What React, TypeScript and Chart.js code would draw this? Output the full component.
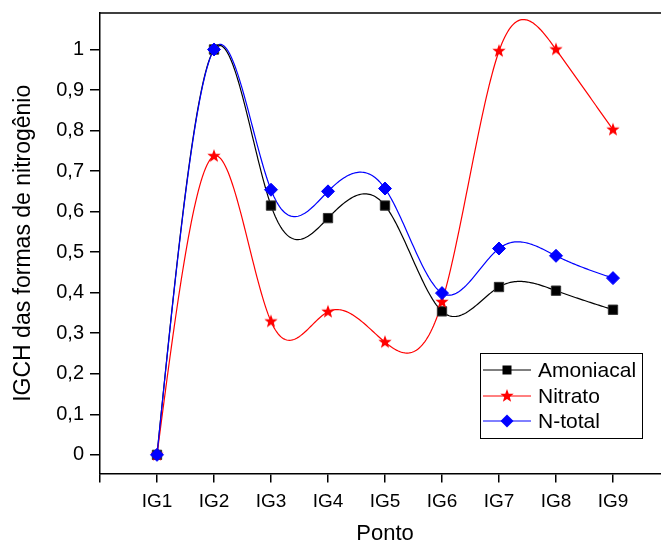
import React, { useEffect, useRef } from 'react';
import { Chart, registerables } from 'chart.js';

Chart.register(...registerables);

const categories = ['IG1', 'IG2', 'IG3', 'IG4', 'IG5', 'IG6', 'IG7', 'IG8', 'IG9'];
const amoniacal = [0, 1.0, 0.615, 0.584, 0.615, 0.354, 0.414, 0.405, 0.358];
const nitrato = [0, 0.737, 0.329, 0.353, 0.278, 0.377, 0.996, 1.0, 0.802];
const nTotal = [0, 1.0, 0.654, 0.65, 0.657, 0.399, 0.509, 0.491, 0.436];
const seriesNames = ['Amoniacal', 'Nitrato', 'N-total'];
const seriesColors = ['#000000', '#FF0000', '#0000FF'];

const FONT = 'Arial, "Liberation Sans", sans-serif';

function makeStar(color: string, outer: number, inner: number): HTMLCanvasElement {
  const size = Math.ceil(outer * 2 + 2);
  const c = document.createElement('canvas');
  c.width = size;
  c.height = size;
  const g = c.getContext('2d')!;
  g.beginPath();
  for (let i = 0; i < 10; i++) {
    const r = i % 2 === 0 ? outer : inner;
    const a = -Math.PI / 2 + (i * Math.PI) / 5;
    g.lineTo(size / 2 + r * Math.cos(a), size / 2 + r * Math.sin(a));
  }
  g.closePath();
  g.fillStyle = color;
  g.fill();
  return c;
}

function naturalSecondDerivs(y: number[]): number[] {
  const n = y.length;
  const M = new Array(n).fill(0);
  if (n < 3) return M;
  const m = n - 2;
  const cp = new Array(m).fill(0);
  const dp = new Array(m).fill(0);
  for (let k = 0; k < m; k++) {
    const i = k + 1;
    const d = 6 * (y[i + 1] - 2 * y[i] + y[i - 1]);
    const a = k === 0 ? 0 : 1;
    const denom = 4 - a * (k === 0 ? 0 : cp[k - 1]);
    cp[k] = 1 / denom;
    dp[k] = (d - a * (k === 0 ? 0 : dp[k - 1])) / denom;
  }
  for (let k = m - 1; k >= 0; k--) {
    M[k + 1] = dp[k] - cp[k] * (k === m - 1 ? 0 : M[k + 2]);
  }
  return M;
}

const splinePlugin = {
  id: 'splineLines',
  beforeDatasetsDraw(chart: any) {
    const { ctx, chartArea, scales } = chart;
    const xs = scales.x;
    const ys = scales.y;
    ctx.save();
    ctx.beginPath();
    ctx.rect(chartArea.left, chartArea.top, chartArea.right - chartArea.left, chartArea.bottom - chartArea.top);
    ctx.clip();
    chart.data.datasets.forEach((ds: any) => {
      const pts = ds.data as { x: number; y: number }[];
      const yv = pts.map((p) => p.y);
      const M = naturalSecondDerivs(yv);
      ctx.beginPath();
      ctx.moveTo(xs.getPixelForValue(pts[0].x), ys.getPixelForValue(pts[0].y));
      for (let i = 0; i < pts.length - 1; i++) {
        const steps = 40;
        for (let s = 1; s <= steps; s++) {
          const t = s / steps;
          const u = 1 - t;
          const val = u * yv[i] + t * yv[i + 1] + ((u * u * u - u) * M[i] + (t * t * t - t) * M[i + 1]) / 6;
          const xv = pts[i].x + t * (pts[i + 1].x - pts[i].x);
          ctx.lineTo(xs.getPixelForValue(xv), ys.getPixelForValue(val));
        }
      }
      ctx.strokeStyle = ds.borderColor;
      ctx.lineWidth = 1.2;
      ctx.stroke();
    });
    ctx.restore();
  },
};

const framePlugin = {
  id: 'frameAndLegend',
  afterDraw(chart: any) {
    const { ctx, chartArea } = chart;
    ctx.save();
    ctx.strokeStyle = '#000';
    ctx.lineWidth = 1.5;
    ctx.beginPath();
    ctx.moveTo(chartArea.left, chartArea.top);
    ctx.lineTo(chartArea.right, chartArea.top);
    ctx.lineTo(chartArea.right, chartArea.bottom);
    ctx.stroke();

    // legend
    const bx = chartArea.left + 380;
    const by = 353;
    const bw = 162;
    const bh = 85;
    ctx.lineWidth = 1;
    ctx.strokeStyle = '#000';
    ctx.strokeRect(bx + 0.5, by + 0.5, bw, bh);
    const rows = [17, 43, 68];
    chart.data.datasets.forEach((ds: any, i: number) => {
      const yy = by + rows[i];
      ctx.beginPath();
      ctx.moveTo(bx + 3, yy);
      ctx.lineTo(bx + 51, yy);
      ctx.strokeStyle = ds.borderColor;
      ctx.lineWidth = 1;
      ctx.stroke();
      const mx = bx + 27;
      const style = ds.pointStyle;
      if (style === 'rect') {
        ctx.fillStyle = ds.pointBackgroundColor;
        ctx.fillRect(mx - 4.5, yy - 4.5, 9, 9);
      } else if (style === 'rectRot') {
        ctx.beginPath();
        ctx.moveTo(mx - 6.5, yy);
        ctx.lineTo(mx, yy - 6.5);
        ctx.lineTo(mx + 6.5, yy);
        ctx.lineTo(mx, yy + 6.5);
        ctx.closePath();
        ctx.fillStyle = ds.pointBackgroundColor;
        ctx.fill();
      } else if (style instanceof HTMLCanvasElement) {
        ctx.drawImage(style, mx - style.width / 2, yy - style.height / 2);
      }
      ctx.fillStyle = '#000';
      ctx.font = `21px ${FONT}`;
      ctx.textBaseline = 'middle';
      ctx.textAlign = 'left';
      ctx.fillText(ds.label, bx + 58, yy + 1);
    });
    ctx.restore();
  },
};

export default function App() {
  const ref = useRef<HTMLCanvasElement | null>(null);

  useEffect(() => {
    if (!ref.current) return;
    const star = makeStar('#FF0000', 7, 2.9);
    const toPts = (arr: number[]) => arr.map((v, i) => ({ x: i, y: v }));
    const chart = new Chart(ref.current, {
      type: 'line',
      data: {
        datasets: [
          {
            label: seriesNames[0],
            data: toPts(amoniacal),
            borderColor: seriesColors[0],
            showLine: false,
            pointStyle: 'rect',
            pointRadius: 6.6,
            pointBackgroundColor: '#000',
            pointBorderColor: '#333',
            pointBorderWidth: 1,
            order: 2,
          },
          {
            label: seriesNames[1],
            data: toPts(nitrato),
            borderColor: seriesColors[1],
            showLine: false,
            pointStyle: star,
            pointRadius: 7,
            pointBackgroundColor: '#FF0000',
            order: 1,
          },
          {
            label: seriesNames[2],
            data: toPts(nTotal),
            borderColor: seriesColors[2],
            showLine: false,
            pointStyle: 'rectRot',
            pointRadius: 6.5,
            pointBackgroundColor: '#0000FF',
            pointBorderColor: '#0000FF',
            pointBorderWidth: 1,
            order: 0,
          },
        ] as any,
      },
      options: {
        animation: false,
        responsive: false,
        devicePixelRatio: 1,
        layout: { padding: { top: 13, right: 30, left: 0, bottom: 0 } },
        plugins: { legend: { display: false }, tooltip: { enabled: false } },
        scales: {
          x: {
            type: 'linear',
            min: -1,
            max: 9,
            afterFit: (s: any) => {
              s.height = 71.5;
              s.paddingLeft = 0;
              s.paddingRight = 0;
            },
            grid: { display: true, drawOnChartArea: false, color: '#000', lineWidth: 1.5, tickLength: 9 },
            border: { display: true, color: '#000', width: 1.5 },
            ticks: {
              stepSize: 1,
              autoSkip: false,
              maxRotation: 0,
              color: '#000',
              padding: 8,
              font: { family: FONT, size: 19 },
              callback: (v: any) => categories[v as number] ?? '',
            },
            title: {
              display: true,
              text: 'Ponto',
              color: '#000',
              font: { family: FONT, size: 22, lineHeight: 1 },
              padding: { top: 0, bottom: 0 },
            },
          },
          y: {
            type: 'linear',
            min: -0.046,
            max: 1.09,
            afterFit: (s: any) => {
              s.width = 100;
              s.paddingTop = 0;
              s.paddingBottom = 0;
            },
            grid: { display: true, drawOnChartArea: false, color: '#000', lineWidth: 1.5, tickLength: 10 },
            border: { display: true, color: '#000', width: 1.5 },
            ticks: {
              stepSize: 0.1,
              includeBounds: false,
              color: '#000',
              padding: 6,
              font: { family: FONT, size: 20 },
              callback: (v: any) => String(Math.round((v as number) * 10) / 10).replace('.', ','),
            },
            title: {
              display: true,
              text: 'IGCH das formas de nitrogênio',
              color: '#000',
              font: { family: FONT, size: 23, lineHeight: 1 },
              padding: { top: 12, bottom: 0 },
            },
          },
        },
      } as any,
      plugins: [splinePlugin, framePlugin],
    });
    return () => chart.destroy();
  }, []);

  return (
    <div style={{ position: 'fixed', left: 0, top: 0, width: 661, height: 545, overflow: 'hidden', background: '#fff' }}>
      <canvas ref={ref} width={700} height={545} style={{ display: 'block' }} />
    </div>
  );
}
